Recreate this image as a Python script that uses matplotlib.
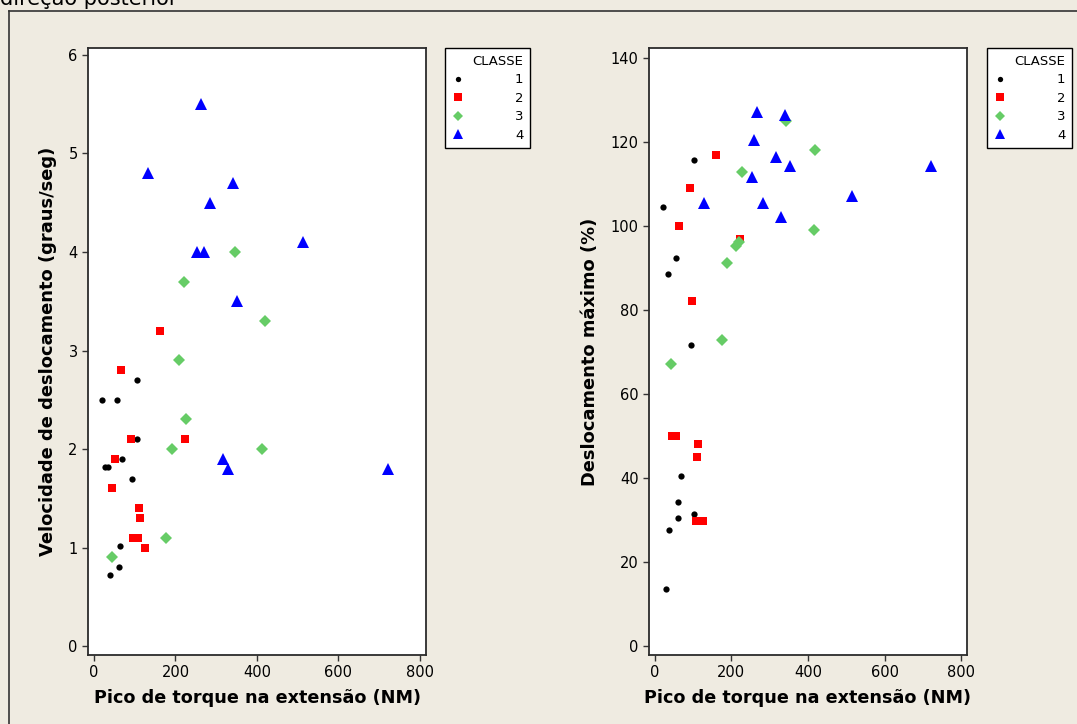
import matplotlib
matplotlib.use('Agg')
import matplotlib.pyplot as plt
from matplotlib.lines import Line2D

# torque peak (NM) vs. displacement speed (graus/seg), per class
vel_x_c1 = [105, 20, 57, 105, 68, 27, 35, 94, 64, 61, 39]
vel_y_c1 = [2.7, 2.5, 2.5, 2.1, 1.9, 1.82, 1.82, 1.7, 1.02, 0.8, 0.72]
vel_x_c2 = [66, 92, 224, 52, 44, 110, 114, 95, 109, 125, 162]
vel_y_c2 = [2.8, 2.1, 2.1, 1.9, 1.6, 1.4, 1.3, 1.1, 1.1, 1.0, 3.2]
vel_x_c3 = [209, 227, 191, 412, 177, 44, 346, 221, 420]
vel_y_c3 = [2.9, 2.3, 2.0, 2.0, 1.1, 0.9, 4.0, 3.7, 3.3]
vel_x_c4 = [316, 328, 262, 133, 342, 284, 253, 269, 512, 350, 721]
vel_y_c4 = [1.9, 1.8, 5.5, 4.8, 4.7, 4.5, 4.0, 4.0, 4.1, 3.5, 1.8]

# torque peak (NM) vs. max displacement (%), per class
des_x_c1 = [22, 57, 34, 96, 69, 61, 61, 104, 38, 29, 104]
des_y_c1 = [104.5, 92.4, 88.5, 71.7, 40.5, 34.4, 30.4, 31.5, 27.6, 13.6, 115.7]
des_x_c2 = [91, 63, 224, 98, 45, 55, 114, 110, 109, 127, 161]
des_y_c2 = [109.1, 100.1, 96.9, 82.2, 50, 50, 48.2, 45, 29.9, 29.9, 116.9]
des_x_c3 = [43, 227, 415, 219, 212, 188, 177, 344, 419]
des_y_c3 = [67.1, 113, 99, 96.3, 95.2, 91.1, 72.9, 125.1, 118]
des_x_c4 = [267, 341, 258, 317, 353, 255, 130, 283, 330, 514, 722]
des_y_c4 = [127.2, 126.4, 120.5, 116.5, 114.4, 111.6, 105.5, 105.5, 102.2, 107.2, 114.4]

classes = ['1', '2', '3', '4']
xticks = [0, 200, 400, 600, 800]
vel_ticks = [0, 1, 2, 3, 4, 5, 6]
des_ticks = [0, 20, 40, 60, 80, 100, 120, 140]

styles = [dict(marker='o', color='black', ms=4.5),
          dict(marker='s', color='#ff0000', ms=6),
          dict(marker='D', color='#66cc66', ms=6.3),
          dict(marker='^', color='#0000ff', ms=9)]

bg = '#efebe1'
fig = plt.figure(figsize=(10.77, 7.24), dpi=100, facecolor=bg)
W, H = 1077, 724

# outer frame (left and top edges visible)
fig.add_artist(Line2D([9 / W, 9 / W], [0, 1 - 11 / H], color='#333333', lw=1.2, transform=fig.transFigure))
fig.add_artist(Line2D([9 / W, 1], [1 - 11 / H, 1 - 11 / H], color='#333333', lw=1.2, transform=fig.transFigure))
fig.text(0 / W, 1 - 5 / H, 'direção posterior', fontsize=15, ha='left', va='baseline', color='black')


def panel(rect, xs, ys, ylim, yticks, ylabel, leg_left):
    ax = fig.add_axes(rect)
    ax.set_facecolor('white')
    handles = []
    for x, y, st in zip(xs, ys, styles):
        h, = ax.plot(x, y, linestyle='none', marker=st['marker'], color=st['color'],
                     markersize=st['ms'], markeredgewidth=0)
        handles.append(h)
    ax.set_xlim(-14.7, 815)
    ax.set_ylim(*ylim)
    ax.set_xticks(xticks)
    ax.set_yticks(yticks)
    ax.tick_params(direction='out', length=4, width=1, labelsize=10.5, color='#333333')
    for s in ax.spines.values():
        s.set_color('#2b2b2b')
        s.set_linewidth(1.3)
    ax.set_xlabel('Pico de torque na extensão (NM)', fontsize=12.7, fontweight='bold', labelpad=6)
    ax.set_ylabel(ylabel, fontsize=12.9, fontweight='bold', labelpad=8)
    leg = ax.legend(handles, classes, title='CLASSE', loc='upper left',
                    bbox_to_anchor=(leg_left / W, 1 - 48 / H), bbox_transform=fig.transFigure,
                    borderaxespad=0, fontsize=9.5, title_fontsize=9.5, alignment='right',
                    handlelength=0.9, handletextpad=3.9, borderpad=0.5, labelspacing=0.42,
                    markerscale=0.85, fancybox=False, framealpha=1, edgecolor='black')
    leg.get_frame().set_linewidth(1.0)
    return ax


panel([88 / W, 1 - 655 / H, 338 / W, 607 / H],
      [vel_x_c1, vel_x_c2, vel_x_c3, vel_x_c4],
      [vel_y_c1, vel_y_c2, vel_y_c3, vel_y_c4],
      (-0.09, 6.07), vel_ticks, 'Velocidade de deslocamento (graus/seg)', 445)

panel([649 / W, 1 - 655 / H, 318 / W, 607 / H],
      [des_x_c1, des_x_c2, des_x_c3, des_x_c4],
      [des_y_c1, des_y_c2, des_y_c3, des_y_c4],
      (-2.1, 142.4), des_ticks, 'Deslocamento máximo (%)', 987)

fig.savefig('out.png', dpi=100, facecolor=bg)
